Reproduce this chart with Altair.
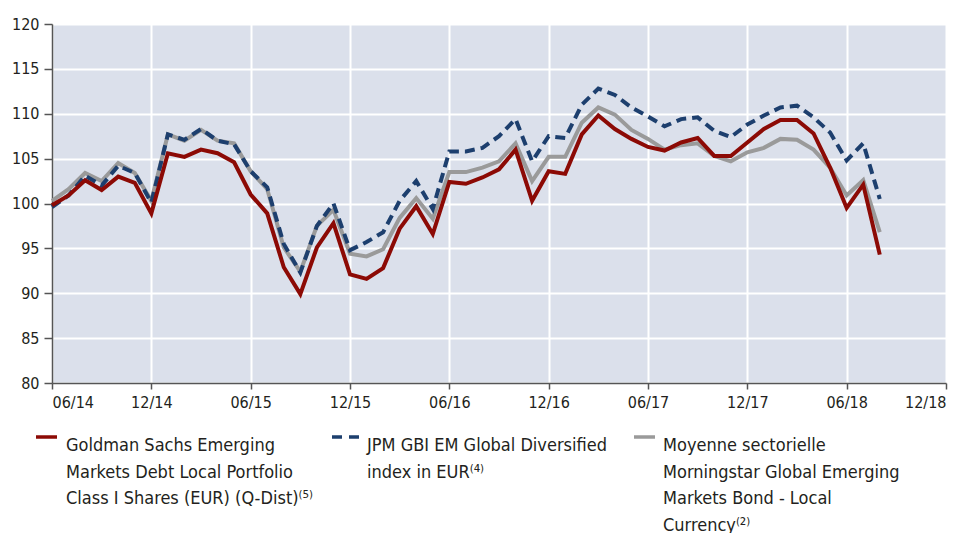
import altair as alt
import pandas as pd

FONT = "DejaVu Sans Condensed, Liberation Sans Narrow, sans-serif"

# x tick labels (every 6 months, month index 0 = 06/14)
x_labels = ["06/14", "12/14", "06/15", "12/15", "06/16", "12/16",
            "06/17", "12/17", "06/18", "12/18"]
y_ticks = [80, 85, 90, 95, 100, 105, 110, 115, 120]

goldman = [99.8, 100.9, 102.6, 101.5, 103.0, 102.3, 98.9, 105.6, 105.2, 106.0, 105.6, 104.6,
           101.0, 98.9, 92.9, 89.9, 95.1, 97.8, 92.1, 91.6, 92.8, 97.2, 99.7, 96.6,
           102.4, 102.2, 102.9, 103.8, 106.0, 100.3, 103.6, 103.3, 107.7, 109.8, 108.3, 107.2,
           106.3, 105.9, 106.8, 107.3, 105.3, 105.3, 106.8, 108.3, 109.3, 109.3, 107.8, 104.0,
           99.5, 102.1, 94.3]

jpm = [99.6, 100.9, 103.1, 102.0, 104.2, 103.4, 100.1, 107.7, 107.1, 108.3, 107.0, 106.6,
       103.6, 101.8, 95.5, 92.3, 97.5, 100.0, 94.8, 95.7, 96.8, 100.3, 102.5, 99.4,
       105.8, 105.8, 106.2, 107.5, 109.4, 104.7, 107.5, 107.3, 111.0, 112.8, 112.1, 110.7,
       109.7, 108.6, 109.4, 109.6, 108.1, 107.4, 108.8, 109.8, 110.7, 110.9, 109.6, 107.9,
       104.8, 106.7, 100.5]

moyenne = [100.3, 101.6, 103.4, 102.5, 104.5, 103.4, 100.3, 107.7, 107.0, 108.2, 107.0, 106.7,
           103.6, 101.6, 95.1, 92.4, 97.5, 99.3, 94.4, 94.1, 94.9, 98.4, 100.6, 98.3,
           103.5, 103.5, 104.0, 104.7, 106.7, 102.5, 105.2, 105.2, 109.0, 110.7, 109.9, 108.2,
           107.2, 106.0, 106.5, 106.7, 105.3, 104.7, 105.7, 106.2, 107.2, 107.1, 106.0, 104.0,
           100.9, 102.6, 96.8]

legend_gs = ["Goldman Sachs Emerging", "Markets Debt Local Portfolio",
             "Class I Shares (EUR) (Q-Dist)⁽⁵⁾"]
legend_jpm = ["JPM GBI EM Global Diversified", "index in EUR⁽⁴⁾"]
legend_moy = ["Moyenne sectorielle", "Morningstar Global Emerging",
              "Markets Bond - Local", "Currency⁽²⁾"]

RED = "#8c0a05"
BLUE = "#1d3f6e"
GRAY = "#9a9a9a"

month = list(range(len(goldman)))
df = pd.DataFrame({"m": month, "gs": goldman, "jpm": jpm, "moy": moyenne})

label_expr = "[" + ",".join("'%s'" % s for s in x_labels) + "][round(datum.value / 6)]"

x_enc = alt.X("m:Q", scale=alt.Scale(domain=[0, 54], nice=False, zero=False),
              axis=alt.Axis(values=[i * 6 for i in range(len(x_labels))], labelExpr=label_expr,
                            title=None, tickSize=6, labelPadding=5, grid=True))

def y_enc(field):
    return alt.Y(field + ":Q", scale=alt.Scale(domain=[80, 120], nice=False, zero=False),
                 axis=alt.Axis(values=y_ticks, title=None, tickSize=8, labelPadding=5, grid=True))

base = alt.Chart(df)
l_moy = base.mark_line(color=GRAY, strokeWidth=4, strokeJoin="miter").encode(x=x_enc, y=y_enc("moy"))
l_jpm = base.mark_line(color=BLUE, strokeWidth=4, strokeDash=[10, 6], strokeJoin="miter").encode(x=x_enc, y=y_enc("jpm"))
l_gs = base.mark_line(color=RED, strokeWidth=4, strokeJoin="miter").encode(x=x_enc, y=y_enc("gs"))

# custom legend below the plot (pixel positions relative to plot area)
sym_y = 413
def sym(x1, x2, color, dash=None):
    kw = dict(color=color, strokeWidth=3.5)
    if dash:
        kw["strokeDash"] = dash
    return alt.Chart(df.head(1)).mark_rule(**kw).encode(
        x=alt.value(x1), x2=alt.value(x2), y=alt.value(sym_y))

def txt(x, lines):
    return alt.Chart(df.head(1)).mark_text(
        align="left", baseline="top", font=FONT, fontSize=18, lineHeight=26.6,
        color="#231f20").encode(x=alt.value(x), y=alt.value(413), text=alt.value(lines))

legend = (sym(-16, 5, RED) + txt(14, legend_gs)
          + sym(280, 307, BLUE, [10, 7]) + txt(315, legend_jpm)
          + sym(582, 603, GRAY) + txt(611, legend_moy))

chart = alt.layer(l_moy, l_jpm, l_gs, legend).properties(
    width=894, height=359,
    autosize=alt.AutoSizeParams(type="none"),
    padding={"left": 44, "top": 16, "right": 13, "bottom": 150},
).configure_view(fill="#dbe0eb", stroke=None).configure_axis(
    domainColor="#555555", domainWidth=1.5, tickColor="#555555", tickWidth=1.5,
    labelFont=FONT, labelFontSize=16, labelColor="#231f20",
    gridColor="#ffffff", gridWidth=2, gridOpacity=1,
)

chart.save("out.html", embed_options={"renderer": "svg", "actions": False})
